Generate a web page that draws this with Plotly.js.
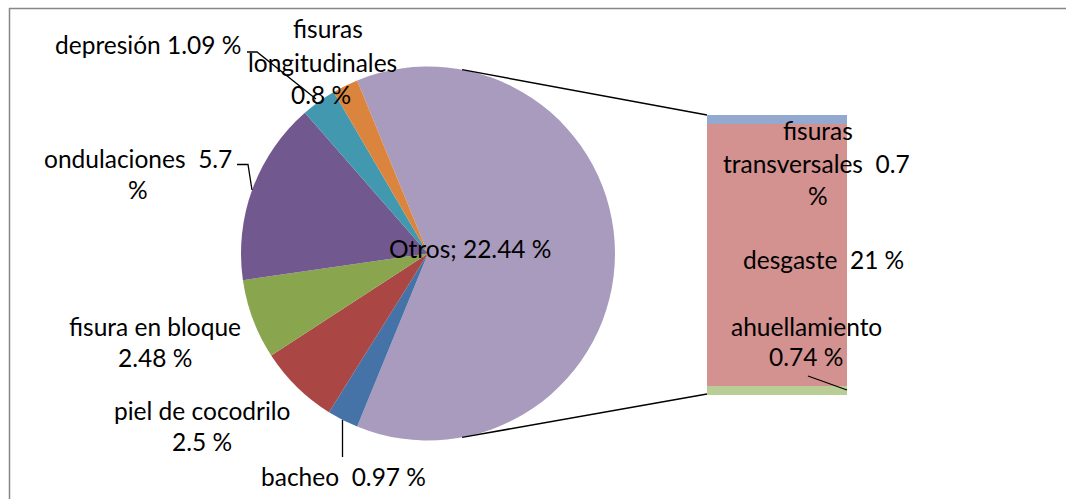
<!DOCTYPE html>
<html>
<head>
<meta charset="utf-8">
<script src="https://cdn.plot.ly/plotly-3.0.1.min.js"></script>
<style>html,body{margin:0;padding:0;background:#fff;overflow:hidden;}#chart{width:1066px;height:499px;}</style>
</head>
<body>
<div id="chart"></div>
<script>
// ---------- DATA ----------
const pieLabels = ["Otros", "bacheo", "piel de cocodrilo", "fisura en bloque", "ondulaciones", "depresión", "fisuras longitudinales"];
const pieValues = [22.44, 0.97, 2.5, 2.48, 5.7, 1.09, 0.8];
const barLabels = ["ahuellamiento", "desgaste", "fisuras transversales"];
const barValues = [0.74, 21, 0.7];

// ---------- STYLE / LAYOUT ----------
const W = 1066, H = 499;
const pieColors = ["#A99BBD", "#4572A7", "#AA4643", "#89A54E", "#71588F", "#4198AF", "#DB843D"];
const barColors = ["#B9CE96", "#D39190", "#93A9CF"];
const FONT = "Lato, 'Open Sans', sans-serif";
const FS = 24.5;

const px = x => x / W;
const py = y => 1 - y / H;

// pie geometry (pixels)
const pieCx = 428, pieCy = 253.5, pieR = 187;
// bar geometry (pixels)
const barL = 707, barR = 847, barT = 115, barB = 395;

const total = pieValues.reduce((a, b) => a + b, 0);
const otrosIdx = pieLabels.indexOf("Otros");
const rotation = 90 - (pieValues[otrosIdx] / total) * 180;

const pieTrace = {
  type: "pie",
  labels: pieLabels,
  values: pieValues,
  sort: false,
  direction: "clockwise",
  rotation: rotation,
  marker: { colors: pieColors, line: { width: 0 } },
  textinfo: "none",
  hoverinfo: "label+value",
  domain: { x: [px(pieCx - pieR), px(pieCx + pieR)], y: [py(pieCy + pieR), py(pieCy - pieR)] },
  showlegend: false
};

const barTraces = barLabels.map((name, i) => ({
  type: "bar",
  name: name,
  x: ["Otros"],
  y: [barValues[i]],
  xaxis: "x",
  yaxis: "y",
  width: 1,
  marker: { color: barColors[i], line: { width: 0 } },
  hoverinfo: "name+y",
  showlegend: false
}));

const barTotal = barValues.reduce((a, b) => a + b, 0);

// label definitions: text from data, line-split word counts + positions (layout only)
function fmt(v) { return String(v) + " %"; }
const labelSpecs = [
  { text: pieLabels[5] + " " + fmt(pieValues[5]), split: [3], pos: [[148, 45]] },
  { text: "fisuras longitudinales " + fmt(pieValues[6]), split: [1, 1, 2], pos: [[328, 28], [322, 62], [321, 95]] },
  { text: pieLabels[4] + "  " + fmt(pieValues[4]), split: [2, 1], pos: [[138, 158], [138, 190]] },
  { text: pieLabels[3] + " " + fmt(pieValues[3]), split: [3, 2], pos: [[155, 326], [155, 357]] },
  { text: pieLabels[2] + " " + fmt(pieValues[2]), split: [3, 2], pos: [[202, 410], [202, 441]] },
  { text: pieLabels[1] + "  " + fmt(pieValues[1]), split: [3], pos: [[343, 476]] },
  { text: pieLabels[0] + "; " + fmt(pieValues[0]), split: [3], pos: [[470, 248]] },
  { text: barLabels[2] + "  " + fmt(barValues[2]), split: [1, 2, 1], pos: [[818, 130], [816, 163], [818, 195]] },
  { text: barLabels[1] + "  " + fmt(barValues[1]), split: [3], pos: [[823, 259]] },
  { text: barLabels[0] + " " + fmt(barValues[0]), split: [1, 2], pos: [[806, 326], [806, 356]] }
];

const annotations = [];
labelSpecs.forEach(spec => {
  const tokens = spec.text.split(/(\s+)/);
  const words = [], seps = [];
  tokens.forEach((t, i) => { if (i % 2 === 0) words.push(t); else seps.push(t); });
  let wi = 0;
  spec.split.forEach((n, li) => {
    let line = "";
    for (let k = 0; k < n; k++) {
      line += words[wi];
      if (k < n - 1) line += seps[wi].replace(/ /g, "&nbsp;");
      wi++;
    }
    annotations.push({
      xref: "paper", yref: "paper",
      x: px(spec.pos[li][0]), y: py(spec.pos[li][1]),
      xanchor: "center", yanchor: "middle",
      text: line, showarrow: false,
      font: { family: FONT, size: FS, color: "#000" }
    });
  });
});

function seg(x0, y0, x1, y1, w, c) {
  return { type: "line", xref: "paper", yref: "paper", x0: px(x0), y0: py(y0), x1: px(x1), y1: py(y1),
           line: { color: c || "#000", width: w || 1.5 } };
}

const a = 10.5 * Math.PI / 180;
const shapes = [
  // chart border (top & left)
  seg(9, 8.5, W + 5, 8.5, 1.5, "#878787"),
  seg(9.5, 8, 9.5, H + 5, 1.5, "#878787"),
  // connector lines pie -> bar
  seg(pieCx + pieR * Math.sin(a), pieCy - pieR * Math.cos(a), barL, barT, 1.5),
  seg(pieCx + pieR * Math.sin(a), pieCy + pieR * Math.cos(a), barL, barB - 1, 1.5),
  // leader lines
  { type: "path", xref: "paper", yref: "paper",
    path: `M ${px(247)} ${py(52)} L ${px(257)} ${py(52)} L ${px(316)} ${py(99)}`, line: { color: "#000", width: 1.3 } },
  { type: "path", xref: "paper", yref: "paper",
    path: `M ${px(237)} ${py(164.5)} L ${px(248)} ${py(164.5)} L ${px(252)} ${py(190)}`, line: { color: "#000", width: 1.3 } },
  seg(342.5, 420, 342.5, 457, 1.3),
  seg(808, 376, 847, 390, 1.3)
];

const layout = {
  width: W, height: H,
  margin: { l: 0, r: 0, t: 0, b: 0, pad: 0 },
  paper_bgcolor: "#fff", plot_bgcolor: "rgba(0,0,0,0)",
  showlegend: false,
  barmode: "stack",
  bargap: 0,
  xaxis: { domain: [px(barL), px(barR)], range: [-0.5, 0.5], visible: false, fixedrange: true },
  yaxis: { domain: [py(barB), py(barT)], range: [0, barTotal], visible: false, fixedrange: true },
  annotations: annotations,
  shapes: shapes,
  font: { family: FONT }
};

Plotly.newPlot("chart", [pieTrace].concat(barTraces), layout, { displayModeBar: false, staticPlot: true });
</script>
</body>
</html>
